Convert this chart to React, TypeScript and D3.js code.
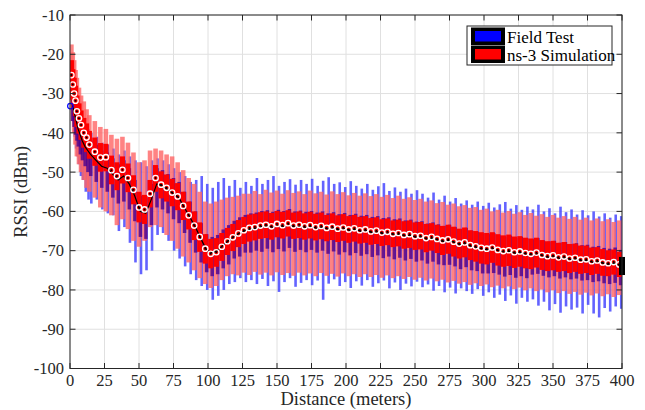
import React from 'react';
import * as d3 from 'd3';

// Distance (meters) of each box
const distances = [1, 2, 3, 4, 5, 6.5, 8, 10, 12,
  14, 18, 22, 26, 30, 34, 38, 42, 46, 50,
  54, 58, 62, 66, 70, 74, 78, 82, 86, 90,
  94, 98, 102, 106, 110, 114, 118, 122, 126, 130,
  134, 138, 142, 146, 150, 154, 158, 162, 166, 170,
  174, 178, 182, 186, 190, 194, 198, 202, 206, 210,
  214, 218, 222, 226, 230, 234, 238, 242, 246, 250,
  254, 258, 262, 266, 270, 274, 278, 282, 286, 290,
  294, 298, 302, 306, 310, 314, 318, 322, 326, 330,
  334, 338, 342, 346, 350, 354, 358, 362, 366, 370,
  374, 378, 382, 386, 390, 394, 398];

// ns-3 Simulation statistics (dBm)
const simMed = [-25.3, -27.7, -30.0, -31.8, -34.5, -36.3, -38.0, -40.0, -41.2,
  -43.0, -44.8, -46.3, -46.2, -49.5, -51.0, -49.4, -51.5, -54.5, -59.0,
  -59.5, -55.5, -51.5, -53.2, -54.0, -55.2, -56.2, -58.6, -61.0, -63.6,
  -66.5, -69.5, -70.8, -70.4, -69.0, -67.6, -66.6, -65.6, -64.8, -64.2,
  -64.0, -63.6, -63.4, -63.8, -63.2, -63.5, -63.0, -63.6, -63.4, -63.8,
  -63.5, -64.0, -63.7, -64.2, -63.9, -64.4, -64.1, -64.6, -64.3, -64.8,
  -64.6, -65.1, -64.9, -65.4, -65.2, -65.7, -65.5, -66.0, -65.8, -66.3,
  -66.2, -66.8, -66.5, -67.0, -67.4, -67.1, -67.7, -68.2, -67.9, -68.6,
  -68.9, -69.3, -69.5, -69.2, -69.8, -70.1, -69.9, -70.4, -70.2, -70.6,
  -70.8, -70.5, -71.1, -71.4, -71.2, -71.7, -71.5, -72.0, -71.8, -72.3,
  -72.2, -72.7, -72.5, -73.0, -73.2, -72.9, -73.5];
const simQ3 = [-21.5, -23.8, -26.0, -28.0, -30.5, -32.5, -34.3, -36.2, -37.6,
  -39.5, -41.2, -42.6, -42.8, -45.8, -47.5, -46.0, -47.8, -50.8, -55.0,
  -55.8, -52.0, -48.2, -49.8, -50.6, -51.7, -52.8, -55.0, -57.5, -60.0,
  -62.8, -65.8, -67.0, -66.8, -65.5, -64.2, -63.2, -62.2, -61.4, -60.8,
  -60.6, -60.2, -60.0, -60.4, -59.9, -60.1, -59.7, -60.3, -60.0, -60.5,
  -60.1, -60.6, -60.3, -60.9, -60.5, -61.0, -60.7, -61.2, -60.9, -61.4,
  -61.2, -61.7, -61.5, -62.0, -61.8, -62.3, -62.1, -62.5, -62.3, -62.8,
  -62.7, -63.2, -63.0, -63.4, -63.7, -63.4, -63.9, -64.4, -64.1, -64.8,
  -65.0, -65.3, -65.5, -65.3, -65.8, -66.1, -65.9, -66.4, -66.3, -66.7,
  -66.9, -66.7, -67.3, -67.6, -67.5, -68.0, -67.8, -68.3, -68.2, -68.7,
  -68.7, -69.2, -69.1, -69.6, -69.9, -69.7, -70.3];
const simQ1 = [-29.3, -31.6, -34.0, -35.7, -38.5, -40.2, -41.8, -43.8, -44.9,
  -46.6, -48.4, -49.9, -49.8, -53.1, -54.6, -52.9, -55.1, -58.2, -62.8,
  -63.2, -59.0, -55.0, -56.7, -57.5, -58.7, -59.7, -62.2, -64.6, -67.3,
  -70.3, -73.3, -74.5, -74.1, -72.6, -71.1, -70.1, -69.1, -68.3, -67.7,
  -67.4, -67.0, -66.8, -67.2, -66.6, -66.9, -66.4, -67.0, -66.8, -67.2,
  -66.9, -67.4, -67.1, -67.6, -67.3, -67.8, -67.5, -68.0, -67.7, -68.2,
  -68.0, -68.5, -68.3, -68.8, -68.6, -69.1, -68.9, -69.5, -69.3, -69.8,
  -69.7, -70.4, -70.0, -70.6, -71.1, -70.8, -71.5, -72.0, -71.7, -72.4,
  -72.8, -73.3, -73.5, -73.1, -73.8, -74.1, -73.9, -74.4, -74.1, -74.5,
  -74.7, -74.3, -74.9, -75.2, -75.0, -75.4, -75.2, -75.7, -75.4, -75.9,
  -75.7, -76.2, -75.9, -76.4, -76.5, -76.1, -76.7];
const simHi = [-17.5, -19.5, -21.5, -24.0, -26.0, -28.5, -30.5, -32.0, -34.0,
  -35.5, -37.0, -38.5, -39.0, -40.5, -41.5, -41.0, -42.5, -45.0, -47.5,
  -47.0, -44.5, -44.0, -44.5, -45.5, -46.0, -47.5, -49.5, -51.5, -53.0,
  -55.0, -57.5, -58.0, -57.5, -57.0, -56.5, -56.3, -56.0, -55.5, -55.5,
  -54.8, -55.6, -54.5, -55.2, -54.7, -55.5, -54.6, -55.3, -54.9, -55.6,
  -54.7, -55.4, -55.0, -55.7, -54.9, -55.6, -55.1, -55.9, -55.3, -56.0,
  -55.4, -56.1, -55.6, -56.3, -55.8, -56.6, -56.0, -56.8, -56.4, -57.1,
  -56.8, -57.5, -57.2, -57.9, -57.6, -58.3, -58.0, -58.7, -58.4, -59.1,
  -58.9, -59.6, -59.3, -60.0, -59.6, -60.3, -59.9, -60.6, -60.2, -60.9,
  -60.4, -61.1, -60.7, -61.4, -60.9, -61.6, -61.2, -61.9, -61.4, -62.1,
  -61.6, -62.3, -61.8, -62.5, -62.0, -62.7, -62.3];
const simLo = [-33.0, -37.0, -40.0, -43.0, -46.0, -48.0, -50.0, -52.0, -54.0,
  -55.0, -56.5, -59.0, -60.0, -61.0, -63.5, -62.0, -64.5, -67.5, -69.0,
  -67.5, -64.0, -63.5, -64.0, -66.0, -67.5, -69.5, -71.5, -73.0, -75.0,
  -77.0, -78.5, -79.5, -79.0, -77.5, -76.5, -76.0, -76.3, -75.6, -76.2,
  -75.4, -76.1, -75.6, -76.3, -75.5, -76.2, -75.7, -76.4, -75.6, -76.3,
  -75.8, -76.5, -75.7, -76.4, -75.9, -76.6, -75.8, -76.5, -76.0, -76.7,
  -76.0, -76.7, -76.2, -76.9, -76.3, -77.0, -76.5, -77.2, -76.7, -77.4,
  -76.9, -77.6, -77.1, -77.8, -77.4, -78.1, -77.7, -78.4, -78.0, -78.7,
  -78.3, -79.0, -78.6, -79.3, -78.9, -79.6, -79.1, -79.8, -79.4, -80.1,
  -79.6, -80.3, -79.9, -80.6, -80.1, -80.8, -80.3, -81.0, -80.5, -81.2,
  -80.7, -81.4, -80.9, -81.6, -81.1, -81.8, -81.3];

// Field Test statistics (dBm)
const fieldMed = [-33.0, -34.5, -36.0, -37.5, -39.0, -40.5, -42.0, -43.5, -44.5,
  -45.5, -47.0, -48.5, -49.0, -50.5, -52.0, -51.0, -53.0, -56.0, -60.0,
  -60.5, -57.0, -53.0, -53.5, -54.5, -55.5, -56.5, -59.0, -61.5, -64.0,
  -67.0, -69.8, -70.5, -70.0, -68.6, -67.5, -66.4, -65.5, -64.9, -64.5,
  -64.3, -63.9, -63.7, -64.1, -63.6, -63.9, -63.4, -64.0, -63.8, -64.1,
  -63.9, -64.3, -64.0, -64.5, -64.2, -64.7, -64.4, -64.9, -64.6, -65.1,
  -64.9, -65.4, -65.2, -65.7, -65.5, -66.0, -65.8, -66.3, -66.1, -66.6,
  -66.5, -67.1, -66.8, -67.3, -67.7, -67.4, -68.0, -68.5, -68.2, -68.9,
  -69.2, -69.6, -69.8, -69.5, -70.1, -70.4, -70.2, -70.7, -70.5, -70.9,
  -71.1, -70.8, -71.4, -71.7, -71.5, -72.0, -71.8, -72.3, -72.1, -72.6,
  -72.5, -73.0, -72.8, -73.3, -73.5, -73.2, -73.8];
const fieldQ3 = [-30.0, -31.0, -32.5, -34.0, -35.5, -37.0, -38.5, -40.0, -41.0,
  -42.0, -43.0, -44.5, -45.0, -46.5, -48.0, -47.0, -49.0, -52.0, -56.0,
  -56.5, -53.0, -49.0, -49.5, -50.5, -51.5, -52.5, -55.0, -57.5, -60.0,
  -63.0, -65.8, -66.5, -66.0, -64.6, -63.5, -62.4, -61.5, -60.9, -60.5,
  -60.3, -59.9, -59.7, -60.1, -59.6, -59.9, -59.4, -60.0, -59.8, -60.1,
  -59.9, -60.3, -60.0, -60.5, -60.2, -60.7, -60.4, -60.9, -60.6, -61.1,
  -60.9, -61.4, -61.2, -61.7, -61.5, -62.0, -61.8, -62.3, -62.1, -62.6,
  -62.5, -63.1, -62.8, -63.3, -63.7, -63.4, -64.0, -64.5, -64.2, -64.9,
  -65.2, -65.6, -65.8, -65.5, -66.1, -66.4, -66.2, -66.7, -66.5, -66.9,
  -67.1, -66.8, -67.4, -67.7, -67.5, -68.0, -67.8, -68.3, -68.1, -68.6,
  -68.5, -69.0, -68.8, -69.3, -69.5, -69.2, -69.8];
const fieldQ1 = [-37.0, -38.5, -40.5, -42.0, -43.5, -45.5, -47.0, -48.5, -50.0,
  -51.0, -52.5, -54.0, -55.0, -56.5, -58.0, -57.5, -59.5, -62.5, -66.5,
  -67.0, -63.5, -59.0, -59.5, -60.5, -62.0, -63.0, -65.5, -68.0, -70.5,
  -73.0, -75.5, -76.5, -76.0, -74.5, -73.5, -72.0, -71.5, -70.5, -70.5,
  -70.0, -70.3, -69.5, -70.4, -69.6, -70.2, -69.3, -70.3, -69.8, -70.4,
  -69.8, -70.5, -70.0, -70.8, -70.2, -71.0, -70.4, -71.2, -70.6, -71.3,
  -70.9, -71.6, -71.2, -71.9, -71.5, -72.2, -71.8, -72.5, -72.1, -72.8,
  -72.5, -73.3, -72.8, -73.5, -73.7, -73.6, -74.0, -74.7, -74.2, -75.0,
  -75.2, -75.8, -75.8, -75.7, -76.1, -76.6, -76.2, -76.9, -76.5, -77.0,
  -76.1, -75.9, -76.4, -76.8, -76.5, -77.1, -76.8, -77.3, -77.1, -77.6,
  -77.5, -78.0, -77.8, -78.3, -78.5, -78.2, -78.8];
const fieldHi = [-29.0, -30.0, -31.0, -32.5, -34.0, -35.5, -37.0, -38.0, -39.0,
  -40.0, -41.0, -42.5, -43.0, -44.0, -45.5, -44.5, -46.0, -47.0, -47.5,
  -48.5, -47.0, -46.5, -47.0, -48.0, -49.0, -50.0, -51.0, -52.5, -52.0,
  -51.0, -53.0, -54.0, -52.5, -51.5, -53.5, -52.0, -54.0, -52.5, -53.5,
  -51.5, -53.0, -52.0, -51.0, -53.5, -52.5, -51.8, -53.2, -52.0, -53.0,
  -51.7, -53.5, -52.2, -51.3, -53.0, -52.6, -53.8, -52.3, -53.5, -54.2,
  -53.0, -54.5, -53.6, -52.8, -54.8, -53.9, -55.0, -54.2, -55.5, -54.6,
  -55.5, -56.5, -55.2, -57.0, -56.0, -57.5, -56.6, -58.0, -57.2, -58.3,
  -57.5, -58.6, -57.8, -59.0, -58.2, -57.6, -59.3, -58.4, -59.6, -58.8,
  -59.5, -58.3, -60.0, -59.2, -60.5, -58.8, -60.2, -59.5, -60.8, -59.7,
  -61.0, -60.0, -61.3, -60.5, -61.6, -60.8, -61.2];
const fieldLo = [-38.5, -41.0, -44.0, -46.0, -48.0, -51.0, -52.0, -55.0, -57.0,
  -58.0, -57.0, -59.5, -60.5, -61.0, -65.0, -64.0, -68.0, -73.0, -76.0,
  -75.0, -70.0, -66.0, -65.5, -67.5, -70.0, -72.0, -74.0, -76.0, -77.5,
  -79.0, -80.0, -82.5, -81.5, -80.0, -78.5, -78.0, -77.0, -78.0, -77.5,
  -78.5, -77.2, -79.0, -77.8, -80.5, -78.0, -77.0, -79.2, -78.2, -77.5,
  -78.8, -77.6, -82.5, -78.4, -77.3, -79.0, -78.0, -79.5, -77.8, -78.9,
  -77.5, -79.2, -78.3, -77.6, -79.6, -78.1, -80.0, -78.4, -79.1, -77.9,
  -79.3, -78.6, -80.2, -79.0, -80.6, -79.4, -80.9, -79.6, -80.3, -81.0,
  -79.8, -81.5, -80.6, -82.0, -81.2, -82.8, -81.4, -83.5, -82.0, -83.0,
  -82.4, -84.0, -83.0, -85.2, -83.6, -85.8, -84.2, -85.0, -84.5, -86.0,
  -83.8, -86.0, -87.0, -84.6, -85.5, -84.2, -84.8];

// Extra marks
const fieldStartMarker = { distance: 0.3, rssi: -33.2 };
const fieldEndBox = { distance: 400, low: -76.2, high: -71.6 };

const xTicks = [0, 25, 50, 75, 100, 125, 150, 175, 200, 225, 250, 275, 300, 325, 350, 375, 400];
const yTicks = [-100, -90, -80, -70, -60, -50, -40, -30, -20, -10];
const legendItems = [
  { label: 'Field Test', color: '#0000ff' },
  { label: 'ns-3 Simulation', color: '#ff0000' },
];

const FONT = '"Liberation Serif", "Times New Roman", "DejaVu Serif", serif';
const AX = '#262626';

export default function App() {
  const left = 70, right = 622, top = 15, bottom = 368.5;
  const x = d3.scaleLinear().domain([0, 400]).range([left, right]);
  const y = d3.scaleLinear().domain([-100, -10]).range([bottom, top]);
  const tick = 5.5;

  const fieldLine = d3.line<number>()
    .x((_, i) => x(distances[i]) + 1.2)
    .y((v) => y(v))(fieldMed) || '';

  const bar = (cx: number, w: number, a: number, b: number) => {
    const y0 = Math.min(y(a), y(b));
    const h = Math.abs(y(a) - y(b));
    return { x: cx - w / 2, y: y0, width: w, height: Math.max(h, 0.5) };
  };

  const txt = (size: number) => ({ fontFamily: FONT, fontSize: size });

  return (
    <svg width={645} height={410} style={{ position: 'absolute', left: 0, top: 0, background: '#fff' }}>
      <defs>
        <clipPath id="plotClip">
          <rect x={left} y={top} width={right - left} height={bottom - top} />
        </clipPath>
      </defs>
      <rect x={0} y={0} width={645} height={410} fill="#fff" />
      {/* grid */}
      <g stroke="#e0e0e0" strokeWidth={1}>
        {xTicks.map((t) => (
          <line key={'gx' + t} x1={x(t)} x2={x(t)} y1={top} y2={bottom} />
        ))}
        {yTicks.map((t) => (
          <line key={'gy' + t} x1={left} x2={right} y1={y(t)} y2={y(t)} />
        ))}
      </g>

      <g clipPath="url(#plotClip)">
        {/* field whiskers */}
        {distances.map((d, i) => (
          <rect key={'fw' + i} {...bar(x(d) + 2, 2.6, fieldLo[i], fieldHi[i])} fill="#3c3cff" opacity={0.8} />
        ))}
        {/* sim whiskers */}
        {distances.map((d, i) => (
          <rect key={'sw' + i} {...bar(x(d), 4.6, simLo[i], simHi[i])} fill="#ff6464" opacity={0.8} />
        ))}
        {/* field boxes */}
        {distances.map((d, i) => (
          <rect key={'fb' + i} {...bar(x(d) + 1.4, 3.5, fieldQ1[i], fieldQ3[i])} fill="#4a008e" opacity={0.8} />
        ))}
        {/* sim boxes */}
        {distances.map((d, i) => (
          <rect key={'sb' + i} {...bar(x(d), 5.2, simQ1[i], simQ3[i])} fill="#ff0000" />
        ))}
        {/* field median */}
        <path d={fieldLine} fill="none" stroke="#000" strokeWidth={1.2} />
        {/* sim medians */}
        {distances.map((d, i) => (
          <g key={'sm' + i}>
            <circle cx={x(d)} cy={y(simMed[i])} r={2.7} fill="none" stroke="#fff" strokeWidth={1.3} />
            <circle cx={x(d)} cy={y(simMed[i])} r={1} fill="#000" />
          </g>
        ))}
      </g>
      {/* extras */}
      <circle cx={x(fieldStartMarker.distance)} cy={y(fieldStartMarker.rssi)} r={2.8} fill="none" stroke="#0000ff" strokeWidth={1.2} />
      <rect {...bar(x(fieldEndBox.distance), 6, fieldEndBox.low, fieldEndBox.high)} fill="#000" />

      {/* axes box */}
      <rect x={left} y={top} width={right - left} height={bottom - top} fill="none" stroke={AX} strokeWidth={1} />
      <g stroke={AX} strokeWidth={1}>
        {xTicks.map((t) => (
          <g key={'tx' + t}>
            <line x1={x(t)} x2={x(t)} y1={bottom} y2={bottom - tick} />
            <line x1={x(t)} x2={x(t)} y1={top} y2={top + tick} />
          </g>
        ))}
        {yTicks.map((t) => (
          <g key={'ty' + t}>
            <line x1={left} x2={left + tick} y1={y(t)} y2={y(t)} />
            <line x1={right} x2={right - tick} y1={y(t)} y2={y(t)} />
          </g>
        ))}
      </g>
      <g style={txt(16.5)} fill={AX}>
        {xTicks.map((t) => (
          <text key={'lx' + t} x={x(t)} y={386} textAnchor="middle">{t}</text>
        ))}
        {yTicks.map((t) => (
          <text key={'ly' + t} x={64} y={y(t)} dy="0.35em" textAnchor="end">{t}</text>
        ))}
      </g>
      <text x={(left + right) / 2} y={405} textAnchor="middle" style={txt(18.5)} fill={AX}>Distance (meters)</text>
      <text transform={`translate(27,${(top + bottom) / 2}) rotate(-90)`} textAnchor="middle" style={txt(18.5)} fill={AX}>RSSI (dBm)</text>

      {/* legend */}
      <g>
        <rect x={467} y={26} width={145} height={39} fill="#fff" stroke={AX} strokeWidth={1} />
        {legendItems.map((it, i) => (
          <g key={it.label} transform={`translate(0,${i * 18})`}>
            <rect x={471} y={27.5} width={34} height={17.5} fill="#000" />
            <rect x={475} y={31} width={26} height={10.5} fill={it.color} />
            <text x={507} y={42.5} style={txt(17)} fill="#000">{it.label}</text>
          </g>
        ))}
      </g>
    </svg>
  );
}
